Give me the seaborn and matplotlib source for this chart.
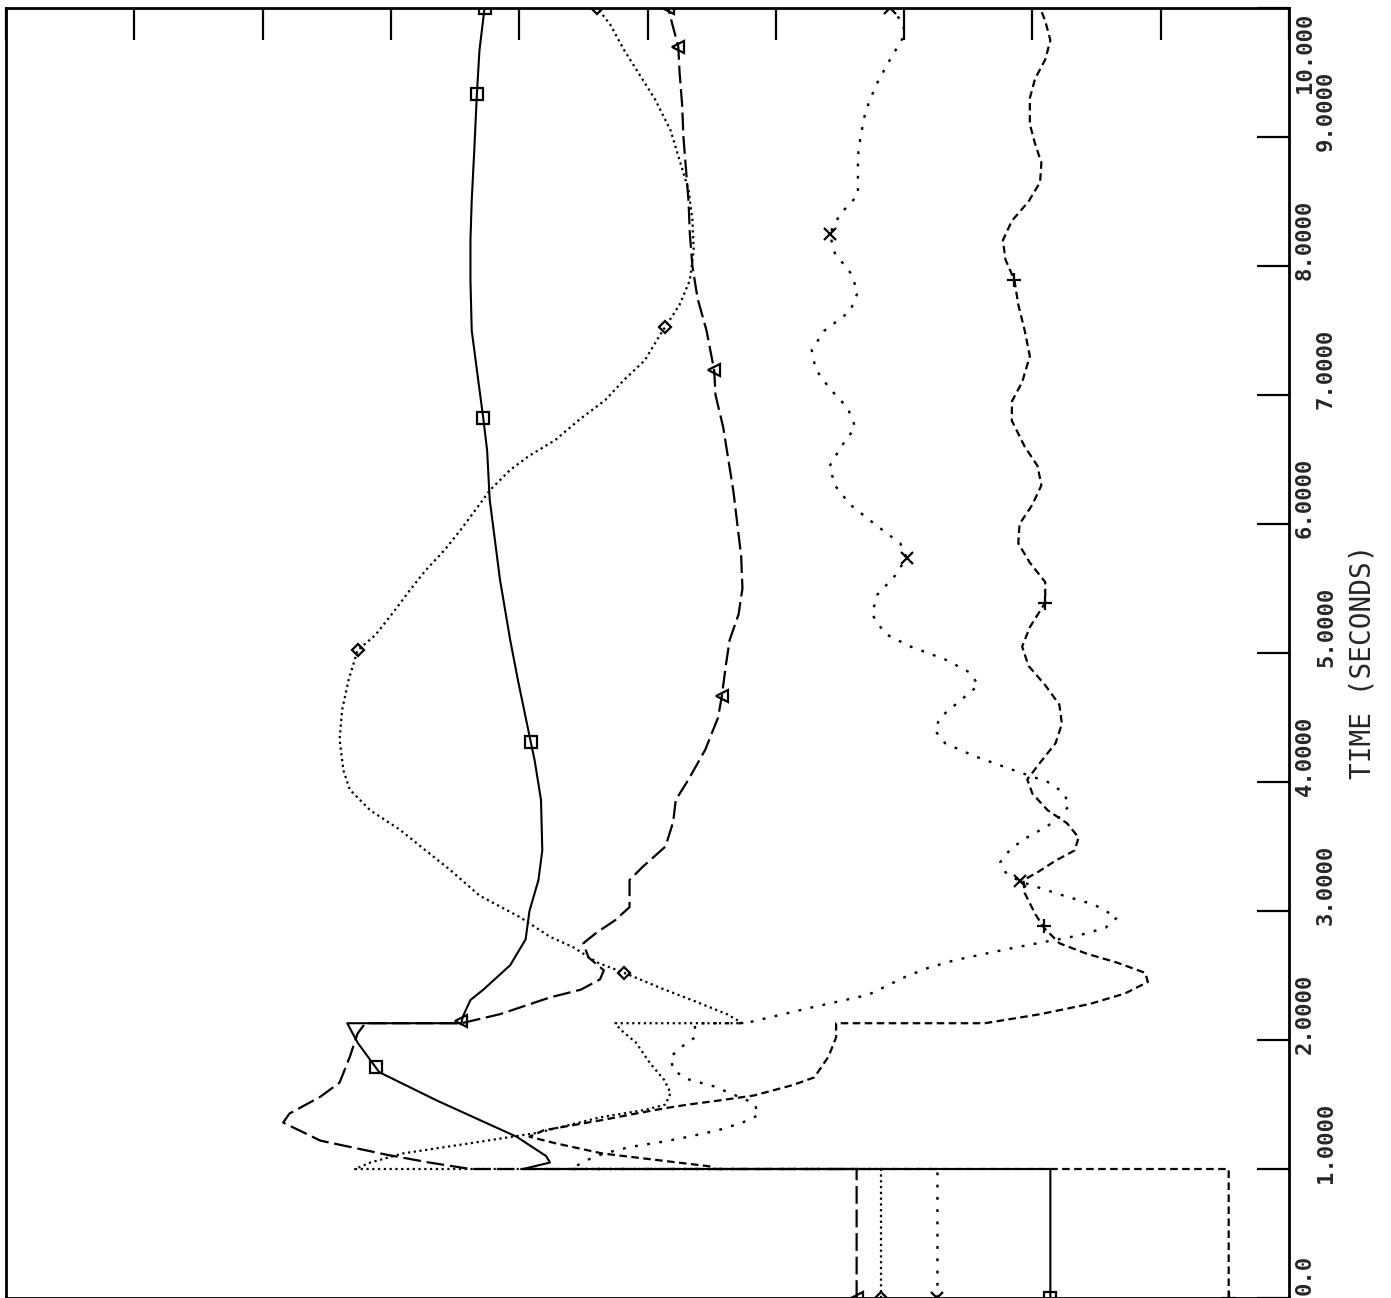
import matplotlib
matplotlib.use("Agg")
import numpy as np
import pandas as pd
import seaborn as sns
import matplotlib.pyplot as plt
from matplotlib.transforms import blended_transform_factory

# values (time in seconds, response in axis divisions)
t_a = [0, 1.0, 1.0, 1.05, 1.1, 1.25, 1.53, 1.75, 1.79, 1.98, 2.13, 2.13, 2.18, 2.31, 2.39, 2.58,
       2.78, 3.0, 3.24, 3.47, 3.86, 4.17, 4.31, 4.79, 5.10, 5.57, 6.19, 6.57, 6.82, 7.12, 7.50,
       7.89, 8.20, 8.51, 8.90, 9.33, 9.67, 10.0]
v_a = [8.14, 8.14, 4.03, 4.24, 4.21, 3.98, 3.36, 2.91, 2.88, 2.74, 2.66, 3.55, 3.56, 3.62, 3.72, 3.93,
       4.05, 4.08, 4.15, 4.18, 4.17, 4.12, 4.09, 3.99, 3.93, 3.85, 3.77, 3.75, 3.72, 3.68, 3.63,
       3.62, 3.62, 3.63, 3.65, 3.67, 3.69, 3.73]

t_b = [0, 1.0, 1.0, 1.05, 1.11, 1.22, 1.36, 1.43, 1.56, 1.67, 1.87, 2.05, 2.13, 2.13, 2.2, 2.33,
       2.39, 2.47, 2.54, 2.64, 2.75, 2.83, 2.93, 3.03, 3.14, 3.24, 3.34, 3.5, 3.69, 3.86, 4.02,
       4.25, 4.5, 4.67, 4.9, 5.1, 5.3, 5.5, 5.75, 6.0, 6.25, 6.5, 6.75, 7.0, 7.19, 7.5, 7.75,
       8.0, 8.25, 8.5, 8.75, 9.0, 9.25, 9.5, 9.7, 9.85, 10.0]
v_b = [6.63, 6.63, 3.62, 3.30, 2.97, 2.45, 2.16, 2.21, 2.45, 2.60, 2.68, 2.74, 2.80, 3.55, 3.85, 4.24,
       4.48, 4.63, 4.66, 4.54, 4.50, 4.60, 4.75, 4.86, 4.86, 4.86, 4.96, 5.14, 5.20, 5.22, 5.32,
       5.45, 5.55, 5.58, 5.61, 5.64, 5.71, 5.74, 5.73, 5.70, 5.67, 5.63, 5.59, 5.53, 5.52, 5.46, 5.39,
       5.35, 5.33, 5.32, 5.30, 5.28, 5.27, 5.25, 5.24, 5.20, 5.16]

t_c = [0, 1.0, 1.0, 1.05, 1.12, 1.2, 1.28, 1.4, 1.46, 1.5, 1.59, 1.69, 1.82, 1.98, 2.08, 2.13, 2.13,
       2.2, 2.3, 2.4, 2.52, 2.6, 2.72, 2.8, 2.95, 3.12, 3.32, 3.47, 3.63, 3.78, 3.94, 4.09, 4.33,
       4.56, 4.79, 5.02, 5.14, 5.33, 5.49, 5.64, 5.80, 5.95, 6.11, 6.26, 6.42, 6.53, 6.65, 6.81,
       6.96, 7.12, 7.27, 7.47, 7.53, 7.70, 7.89, 8.12, 8.36, 8.59, 8.82, 9.05, 9.29, 9.48, 9.67,
       9.87, 10.0]
v_c = [6.82, 6.82, 2.72, 2.84, 3.09, 3.62, 4.14, 4.63, 4.99, 5.14, 5.18, 5.13, 5.02, 4.91, 4.79, 4.75, 5.74,
       5.62, 5.37, 5.11, 4.82, 4.61, 4.42, 4.24, 4.01, 3.69, 3.46, 3.27, 3.07, 2.84, 2.68, 2.63, 2.60,
       2.62, 2.67, 2.74, 2.88, 3.03, 3.15, 3.27, 3.42, 3.54, 3.66, 3.77, 3.93, 4.08, 4.28, 4.47,
       4.67, 4.82, 4.98, 5.10, 5.14, 5.25, 5.33, 5.36, 5.35, 5.32, 5.25, 5.18, 5.06, 4.94, 4.82,
       4.71, 4.61]

t_d = [0, 1.0, 1.0, 1.07, 1.12, 1.17, 1.21, 1.25, 1.30, 1.36, 1.42, 1.51, 1.64, 1.70, 1.77, 1.87,
       1.95, 2.02, 2.13, 2.13, 2.25, 2.35, 2.49, 2.56, 2.62, 2.72, 2.81, 2.87, 2.95, 3.05, 3.12,
       3.23, 3.3, 3.38, 3.48, 3.56, 3.66, 3.73, 3.82, 3.92, 4.0, 4.1, 4.2, 4.3, 4.4, 4.5, 4.6,
       4.75, 4.85, 4.95, 5.05, 5.15, 5.3, 5.45, 5.6, 5.74, 5.85, 6.0, 6.15, 6.3, 6.45, 6.6, 6.75,
       6.9, 7.05, 7.2, 7.35, 7.5, 7.65, 7.8, 7.95, 8.1, 8.25, 8.4, 8.55, 8.7, 8.85, 9.0, 9.2,
       9.4, 9.6, 9.8, 9.9, 10.0]
v_d = [7.26, 7.26, 4.40, 4.53, 4.66, 4.86, 5.11, 5.32, 5.55, 5.74, 5.87, 5.83, 5.52, 5.30, 5.20, 5.18,
       5.27, 5.37, 5.37, 5.76, 6.27, 6.72, 7.01, 7.19, 7.40, 7.88, 8.36, 8.57, 8.66, 8.48, 8.24,
       7.90, 7.79, 7.75, 7.83, 7.94, 8.12, 8.21, 8.29, 8.24, 8.12, 7.83, 7.55, 7.32, 7.24, 7.28, 7.40,
       7.58, 7.51, 7.32, 7.05, 6.85, 6.75, 6.79, 6.93, 7.02, 6.97, 6.77, 6.58, 6.46, 6.42, 6.51, 6.62,
       6.56, 6.42, 6.31, 6.28, 6.38, 6.58, 6.64, 6.58, 6.46, 6.42, 6.50, 6.64, 6.64, 6.64, 6.66, 6.70,
       6.78, 6.89, 7.01, 6.98, 6.89]

t_e = [0, 1.0, 1.0, 1.02, 1.12, 1.2, 1.25, 1.3, 1.38, 1.43, 1.47, 1.5, 1.53, 1.57, 1.65, 1.71, 1.87,
       2.02, 2.13, 2.13, 2.2, 2.28, 2.36, 2.45, 2.52, 2.6, 2.67, 2.75, 2.87, 2.98, 3.14, 3.24, 3.30,
       3.39, 3.47, 3.57, 3.68, 3.78, 3.91, 4.02, 4.15, 4.3, 4.45, 4.6, 4.75, 4.9, 5.05, 5.2, 5.39,
       5.55, 5.7, 5.85, 6.0, 6.15, 6.3, 6.45, 6.6, 6.8, 6.95, 7.1, 7.3, 7.5, 7.7, 7.89, 8.05, 8.2,
       8.35, 8.5, 8.65, 8.8, 8.95, 9.1, 9.3, 9.45, 9.6, 9.75, 9.9, 10.0]
v_e = [9.53, 9.53, 5.53, 5.49, 4.65, 4.28, 4.08, 4.19, 4.65, 4.91, 5.13, 5.32, 5.55, 5.83, 6.13, 6.30, 6.41,
       6.47, 6.47, 7.63, 8.06, 8.45, 8.72, 8.90, 8.88, 8.66, 8.42, 8.21, 8.09, 8.02, 7.94, 7.93, 8.04,
       8.18, 8.33, 8.36, 8.27, 8.12, 8.00, 7.96, 8.06, 8.18, 8.23, 8.21, 8.10, 7.97, 7.92, 7.98, 8.10,
       8.10, 7.98, 7.89, 7.90, 8.00, 8.07, 8.04, 7.94, 7.84, 7.84, 7.92, 7.98, 7.94, 7.89, 7.86, 7.79, 7.77,
       7.84, 7.97, 8.06, 8.07, 8.02, 7.98, 7.98, 8.02, 8.10, 8.14, 8.10, 8.06]

# symbol positions along each trace
mk_a_t = [0, 1.79, 4.31, 6.82, 9.33, 10.0]
mk_a_v = [8.14, 2.88, 4.09, 3.72, 3.67, 3.73]
mk_b_t = [0, 2.15, 4.67, 7.19, 9.70, 10.0]
mk_b_v = [6.63, 3.55, 5.58, 5.52, 5.24, 5.16]
mk_c_t = [0, 2.52, 5.02, 7.53, 10.0]
mk_c_v = [6.82, 4.82, 2.74, 5.14, 4.61]
mk_d_t = [0, 3.23, 5.74, 8.25, 10.0]
mk_d_v = [7.26, 7.90, 7.02, 6.42, 6.89]
mk_e_t = [0, 2.88, 5.39, 7.89]
mk_e_v = [9.53, 8.09, 8.10, 7.86]

time_ticks = list(range(11))
time_labels = ["0.0", "1.0000", "2.0000", "3.0000", "4.0000", "5.0000",
               "6.0000", "7.0000", "8.0000", "9.0000", "10.000"]

sns.set_style("white")
plt.rcParams["font.family"] = ["DejaVu Sans Mono", "DejaVu Sans"]

fig = plt.figure(figsize=(13.91, 12.98), dpi=100)
ax = fig.add_axes([6 / 1391, 0.0, 1283 / 1391, 1 - 8 / 1298])

traces = [
    (t_a, v_a, "-", 1.5),
    (t_b, v_b, (0, (8, 2.6)), 1.6),
    (t_c, v_c, (0, (1, 1.6)), 1.6),
    (t_d, v_d, (0, (1.2, 4.0)), 1.7),
    (t_e, v_e, (0, (3.4, 2.0)), 1.6),
]
for t, v, ls, lw in traces:
    sns.lineplot(x=v, y=t, sort=False, estimator=None, color="black",
                 linestyle=ls, linewidth=lw, ax=ax)

marks = [
    (mk_a_t, mk_a_v, "s", 8),
    (mk_b_t, mk_b_v, "<", 8),
    (mk_c_t, mk_c_v, "D", 6),
    (mk_d_t, mk_d_v, "x", 9),
    (mk_e_t, mk_e_v, "+", 10),
]
for t, v, m, s in marks:
    ax.plot(v, t, linestyle="none", marker=m, markersize=s, mfc="none",
            mec="black", mew=1.6)

ax.set_xlim(0, 10)
ax.set_ylim(0, 10)
ax.set_xticks(range(11))
ax.set_yticks(time_ticks)
ax.tick_params(direction="in", length=23, width=1.6, top=True, right=True,
               labelleft=False, labelbottom=False, colors="black")
for sp in ax.spines.values():
    sp.set_linewidth(2.0)
    sp.set_color("black")
ax.set_xlabel("")
ax.set_ylabel("")

# time labels printed sideways, alternating between two columns
tr = blended_transform_factory(ax.transAxes, ax.transData)
for tk, lab in zip(time_ticks, time_labels):
    xcol = 1.0125 if tk % 2 == 0 else 1.0288
    if tk == 10:
        ax.text(xcol, tk - 0.04, lab, transform=tr, rotation=90, rotation_mode="anchor",
                ha="right", va="center", fontsize=16, fontweight="bold")
    elif tk == 0:
        ax.text(xcol, tk + 0.02, lab, transform=tr, rotation=90, rotation_mode="anchor",
                ha="left", va="center", fontsize=16, fontweight="bold")
    else:
        ax.text(xcol, tk - 0.11, lab, transform=tr, rotation=90, rotation_mode="anchor",
                ha="left", va="center", fontsize=16, fontweight="bold")

ax.text(1.0569, 4.93, "TIME (SECONDS)", transform=tr, rotation=90,
        ha="center", va="center", fontsize=20)

fig.savefig("out.png", dpi=100)
